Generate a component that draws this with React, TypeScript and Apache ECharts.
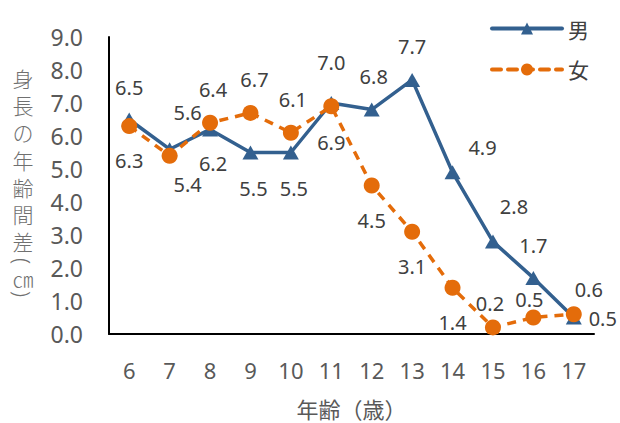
import React, { useEffect, useRef } from "react";
import * as echarts from "echarts";

const ages = ["6", "7", "8", "9", "10", "11", "12", "13", "14", "15", "16", "17"];
const male = [6.5, 5.6, 6.2, 5.5, 5.5, 7.0, 6.8, 7.7, 4.9, 2.8, 1.7, 0.5];
const female = [6.3, 5.4, 6.4, 6.7, 6.1, 6.9, 4.5, 3.1, 1.4, 0.2, 0.5, 0.6];
const yTicks = [0, 1, 2, 3, 4, 5, 6, 7, 8, 9];
const yTitle = ["身", "長", "の", "年", "齢", "間", "差", "(", "㎝", ")"];

// layout only: label offsets and vertical title character centres / rotations
const maleLabelOffsets = [
  [0, -32], [18, -37], [3, 34], [3, 36], [3, 36], [0, -41],
  [2, -33], [0, -33], [30, -25], [21, -35], [0, -32], [29, 1],
];
const femaleLabelOffsets = [
  [0, 34], [18, 29], [3, -33], [4, -33], [2, -33], [0, 36],
  [0, 35], [0, 35], [0, 35], [-3, -24], [-4, -18], [15, -25],
];
const yTitleCentres = [78, 105, 132, 160, 187, 214, 241, 261, 278, 294];
const yTitleRotated = [false, false, false, false, false, false, false, true, false, true];

const BLUE = "#33608F";
const ORANGE = "#E46C0A";

export default function App() {
  const ref = useRef<HTMLDivElement>(null);
  useEffect(() => {
    if (!ref.current) return;
    document.body.style.margin = "0";
    document.documentElement.style.overflow = "hidden";
    const chart = echarts.init(ref.current, undefined, { renderer: "svg" });
    const labelStyle = {
      show: true,
      position: "inside",
      align: "center",
      verticalAlign: "middle",
      fontSize: 20,
      color: "#404040",
      fontFamily: "Noto Sans",
      formatter: (p: any) => Number(p.value).toFixed(1),
    };
    chart.setOption({
      animation: false,
      textStyle: { fontFamily: "Noto Sans" },
      grid: { left: 109, right: 26, top: 37, bottom: 89, containLabel: false, outerBoundsMode: "none" },
      legend: {
        orient: "vertical",
        left: 485,
        top: 13,
        itemWidth: 70,
        itemHeight: 15,
        itemGap: 20,
        lineStyle: { width: 4, cap: "round" },
        textStyle: { fontSize: 21, color: "#404040", fontFamily: "Noto Sans CJK JP", padding: [0, 0, 0, 1] },
        data: ["男", "女"],
      },
      xAxis: {
        type: "category",
        data: ages,
        boundaryGap: true,
        axisLine: { show: true, lineStyle: { color: "#000", width: 2 } },
        axisTick: { show: false },
        axisLabel: { fontSize: 22, color: "#595959", margin: 25, fontFamily: "Noto Sans" },
        name: "年齢（歳）",
        nameLocation: "middle",
        nameGap: 63,
        nameTextStyle: { fontSize: 22, color: "#595959", fontFamily: "Noto Sans CJK JP" },
      },
      yAxis: {
        type: "value",
        min: yTicks[0],
        max: yTicks[yTicks.length - 1],
        interval: 1,
        axisLine: { show: true, lineStyle: { color: "#000", width: 2 } },
        axisTick: { show: false },
        splitLine: { show: false },
        axisLabel: {
          fontSize: 23,
          color: "#595959",
          margin: 26,
          fontFamily: "Noto Sans",
          formatter: (v: number) => v.toFixed(1),
        },
      },
      graphic: yTitle.map((ch, i) => ({
        type: "text",
        x: 23,
        y: yTitleCentres[i],
        rotation: yTitleRotated[i] ? -Math.PI / 2 : 0,
        style: {
          text: ch,
          fontSize: yTitleRotated[i] ? 22 : 21,
          fill: "#707070",
          fontFamily: yTitleRotated[i] ? "Noto Sans" : "Noto Sans CJK JP",
          fontWeight: 300,
          align: "center",
          verticalAlign: "middle",
        },
      })),
      series: [
        {
          name: "男",
          type: "line",
          data: male.map((v, i) => ({ value: v, label: { offset: maleLabelOffsets[i] } })),
          symbol: "triangle",
          symbolSize: [16, 14],
          itemStyle: { color: BLUE },
          lineStyle: { color: BLUE, width: 3.5 },
          label: labelStyle,
          z: 2,
        },
        {
          name: "女",
          type: "line",
          data: female.map((v, i) => ({ value: v, label: { offset: femaleLabelOffsets[i] } })),
          symbol: "circle",
          symbolSize: 16,
          itemStyle: { color: ORANGE },
          lineStyle: { color: ORANGE, width: 3.5, type: [9, 7] },
          label: labelStyle,
          z: 3,
        },
      ],
    });
    return () => chart.dispose();
  }, []);
  return <div ref={ref} style={{ position: "absolute", left: 0, top: 0, width: 620, height: 423 }} />;
}
